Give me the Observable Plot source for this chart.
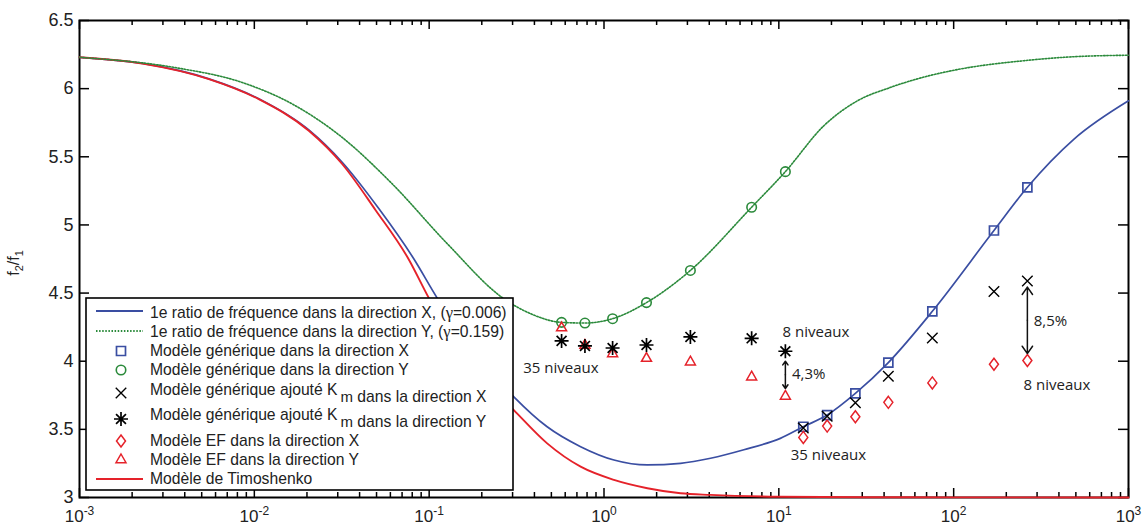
<!DOCTYPE html>
<html><head><meta charset="utf-8">
<script src="https://cdn.jsdelivr.net/npm/d3@7"></script>
<script src="https://cdn.jsdelivr.net/npm/@observablehq/plot@0.6"></script>
<style>body{margin:0;background:#fff;} #chart{width:1142px;height:525px;}</style>
</head><body><div id="chart"></div>
<script>
// ---------- data ----------
const xMajor = [0.001, 0.01, 0.1, 1, 10, 100, 1000];
const xExp = ["-3", "-2", "-1", "0", "1", "2", "3"];
const yTicks = [3, 3.5, 4, 4.5, 5, 5.5, 6, 6.5];

// Blue: 1e ratio, direction X (gamma=0.006)
const blueX = [0.001, 0.00229, 0.0055, 0.0106, 0.0205, 0.0318, 0.0515, 0.0818, 0.111, 0.178, 0.305, 0.473, 0.735, 1.14, 1.77, 2.74, 4.07, 6.31, 10.2, 13.8, 18.9, 27.4, 42.3, 75.5, 170, 264, 488, 1000];
const blueY = [6.23, 6.185, 6.072, 5.926, 5.697, 5.46, 5.12, 4.75, 4.465, 4.08, 3.739, 3.519, 3.373, 3.275, 3.239, 3.251, 3.288, 3.35, 3.434, 3.519, 3.605, 3.764, 3.99, 4.366, 4.959, 5.276, 5.63, 5.911];

// Green dotted: 1e ratio, direction Y (gamma=0.159)
const greenX = [0.001, 0.00354, 0.00853, 0.0165, 0.0318, 0.0615, 0.127, 0.267, 0.38, 0.572, 0.778, 1.12, 1.75, 3.12, 6.99, 10.9, 18.1, 28.1, 43.7, 67.6, 105, 252, 500, 1000];
const greenY = [6.23, 6.154, 6.045, 5.887, 5.642, 5.301, 4.862, 4.459, 4.349, 4.285, 4.28, 4.312, 4.43, 4.666, 5.13, 5.391, 5.728, 5.91, 6.01, 6.085, 6.14, 6.205, 6.235, 6.245];

// Red: Timoshenko
const redX = [0.001, 0.00229, 0.0055, 0.0106, 0.0205, 0.0318, 0.0493, 0.0766, 0.0995, 0.178, 0.305, 0.473, 0.735, 1.14, 1.77, 2.74, 4.07, 10, 31.6, 100, 1000];
const redY = [6.23, 6.184, 6.07, 5.923, 5.691, 5.447, 5.11, 4.745, 4.465, 3.95, 3.641, 3.397, 3.226, 3.129, 3.068, 3.031, 3.019, 3.006, 3.002, 3.001, 3.0];

// Markers, Y-direction models (35 -> 8 niveaux)
const ptsYX = [0.572, 0.778, 1.12, 1.75, 3.12, 6.99, 10.9];
const circleY = [4.285, 4.28, 4.312, 4.43, 4.666, 5.13, 5.391];
const asteriskY = [4.149, 4.112, 4.097, 4.119, 4.178, 4.168, 4.073];
const triangleY = [4.251, 4.122, 4.061, 4.027, 4.0, 3.89, 3.749];

// Markers, X-direction models
const ptsXX = [13.8, 18.9, 27.4, 42.3, 75.5, 170, 264];
const squareY = [3.519, 3.605, 3.764, 3.99, 4.366, 4.959, 5.276];
const timesY = [3.51, 3.597, 3.695, 3.89, 4.171, 4.512, 4.588];
const diamondY = [3.441, 3.524, 3.592, 3.698, 3.841, 3.978, 4.005];

// Annotations
const annoText = ["35 niveaux", "8 niveaux", "4,3%", "8,5%", "8 niveaux", "35 niveaux"];
const annoX = [0.345, 10.5, 11.9, 287, 251, 11.7];
const annoY = [3.951, 4.214, 3.903, 4.293, 3.824, 3.312];
const arrowX = [10.9, 264];
const arrowY1 = [4.0, 4.544];
const arrowY2 = [3.8, 4.056];

const legendLabels = [
  "1e ratio de fréquence dans la direction X, (γ=0.006)",
  "1e ratio de fréquence dans la direction Y, (γ=0.159)",
  "Modèle générique dans la direction X",
  "Modèle générique dans la direction Y",
  "Modèle générique ajouté K_m dans la direction X",
  "Modèle générique ajouté K_m dans la direction Y",
  "Modèle EF dans la direction X",
  "Modèle EF dans la direction Y",
  "Modèle de Timoshenko"
];

// ---------- styles ----------
const BLUE = "#3a4ea2", GREEN = "#2b8a3b", RED = "#e5222a";

const asterisk8 = {draw(ctx, size) { const r = Math.sqrt(size / Math.PI) * 1.4, d = r * Math.SQRT1_2;
  ctx.moveTo(-r, 0); ctx.lineTo(r, 0); ctx.moveTo(0, -r); ctx.lineTo(0, r);
  ctx.moveTo(-d, -d); ctx.lineTo(d, d); ctx.moveTo(-d, d); ctx.lineTo(d, -d); }};
const tallDiamond = {draw(ctx, size) { const r = Math.sqrt(size / Math.PI), w = r * 0.9, h = r * 1.2;
  ctx.moveTo(0, -h); ctx.lineTo(w, 0); ctx.lineTo(0, h); ctx.lineTo(-w, 0); ctx.closePath(); }};
const triUp = {draw(ctx, size) { const r = Math.sqrt(size / Math.PI);
  ctx.moveTo(0, -r); ctx.lineTo(r, 0.75 * r); ctx.lineTo(-r, 0.75 * r); ctx.closePath(); }};
const squareS = {draw(ctx, size) { const h = Math.sqrt(size / Math.PI) * 0.9;
  ctx.moveTo(-h, -h); ctx.lineTo(h, -h); ctx.lineTo(h, h); ctx.lineTo(-h, h); ctx.closePath(); }};
const timesS = {draw(ctx, size) { const h = Math.sqrt(size / Math.PI) * 1.05;
  ctx.moveTo(-h, -h); ctx.lineTo(h, h); ctx.moveTo(-h, h); ctx.lineTo(h, -h); }};
const circleS = {draw(ctx, size) { const r = Math.sqrt(size / Math.PI) * 0.95;
  ctx.moveTo(r, 0); ctx.arc(0, 0, r, 0, 2 * Math.PI); }};

// ---------- build tables ----------
const zip = (xs, ys) => xs.map((x, i) => ({x, y: ys[i]}));
const xMinor = xMajor.slice(0, -1).flatMap(p => [2,3,4,5,6,7,8,9].map(k => +(k * p).toPrecision(3)));
const W = 1142, H = 525, ML = 79, MR = 14, MT = 20, MB = 28;
const innerH = H - MT - MB, innerW = W - ML - MR;
const annos = annoText.map((t, i) => ({t, x: annoX[i], y: annoY[i]}));
const arrows = arrowX.map((x, i) => ({x, y1: arrowY1[i], y2: arrowY2[i], ym: (arrowY1[i] + arrowY2[i]) / 2}));

const chart = Plot.plot({
  width: W, height: H,
  marginLeft: ML, marginRight: MR, marginTop: MT, marginBottom: MB,
  style: {background: "white", fontFamily: "'Liberation Sans', Arial, sans-serif", overflow: "visible"},
  x: {type: "log", domain: [1e-3, 1e3]},
  y: {domain: [3, 6.5]},
  marks: [
    Plot.axisY({ticks: yTicks, tickSize: 0, tickPadding: 6, fontSize: 18, label: null, color: "#222", tickFormat: d => String(d)}),
    Plot.axisX({ticks: xMajor, tickSize: 0, tickPadding: 12, fontSize: 17, label: null, color: "#222",
      tickFormat: d => "10|" + xExp[xMajor.indexOf(d)]}),
    Plot.frame({stroke: "black", strokeWidth: 2}),
    Plot.tickX(xMajor, {x: d => d, insetTop: innerH - 9, stroke: "black", strokeWidth: 1.5}),
    Plot.tickX(xMajor, {x: d => d, insetBottom: innerH - 9, stroke: "black", strokeWidth: 1.5}),
    Plot.tickX(xMinor, {x: d => d, insetTop: innerH - 5, stroke: "black", strokeWidth: 1.5}),
    Plot.tickX(xMinor, {x: d => d, insetBottom: innerH - 5, stroke: "black", strokeWidth: 1.5}),
    Plot.tickY(yTicks, {y: d => d, insetRight: innerW - 10, stroke: "black", strokeWidth: 1.5}),
    Plot.tickY(yTicks, {y: d => d, insetLeft: innerW - 10, stroke: "black", strokeWidth: 1.5}),
    Plot.line(zip(blueX, blueY), {x: "x", y: "y", stroke: BLUE, strokeWidth: 1.7, curve: "monotone-x"}),
    Plot.line(zip(redX, redY), {x: "x", y: "y", stroke: RED, strokeWidth: 1.9, curve: "monotone-x"}),
    Plot.line(zip(greenX, greenY), {x: "x", y: "y", stroke: GREEN, strokeWidth: 1.6, strokeDasharray: "1.5,1.6", curve: "monotone-x"}),
    Plot.dot(zip(ptsXX, squareY), {x: "x", y: "y", r: 5, symbol: squareS, stroke: BLUE, strokeWidth: 1.7, fill: "none"}),
    Plot.dot(zip(ptsXX, timesY), {x: "x", y: "y", r: 5, symbol: timesS, stroke: "black", strokeWidth: 1.4, fill: "none"}),
    Plot.dot(zip(ptsXX, diamondY), {x: "x", y: "y", r: 5, symbol: tallDiamond, stroke: RED, strokeWidth: 1.5, fill: "none"}),
    Plot.dot(zip(ptsYX, circleY), {x: "x", y: "y", r: 5, symbol: circleS, stroke: GREEN, strokeWidth: 1.6, fill: "none"}),
    Plot.dot(zip(ptsYX, triangleY), {x: "x", y: "y", r: 5, symbol: triUp, stroke: RED, strokeWidth: 1.5, fill: "none"}),
    Plot.dot(zip(ptsYX, asteriskY), {x: "x", y: "y", r: 5, symbol: asterisk8, stroke: "black", strokeWidth: 1.7, fill: "none"}),
    Plot.arrow(arrows, {x1: "x", x2: "x", y1: "ym", y2: "y1", stroke: "#111", strokeWidth: 1.5, headLength: 9, headAngle: 70}),
    Plot.arrow(arrows, {x1: "x", x2: "x", y1: "ym", y2: "y2", stroke: "#111", strokeWidth: 1.5, headLength: 9, headAngle: 70}),
    Plot.text(annos, {x: "x", y: "y", text: "t", textAnchor: "start", fontSize: 15, fill: "#222", fontFamily: "'Open Sans', 'Noto Sans', sans-serif"})
  ]
});
document.getElementById("chart").appendChild(chart);

// ---------- x tick labels with superscripts ----------
const svg = d3.select(chart);
svg.selectAll('g[aria-label="x-axis tick label"] text').each(function() {
  const parts = this.textContent.split("|");
  const t = d3.select(this);
  t.text(null);
  t.append("tspan").text(parts[0]);
  t.append("tspan").attr("dy", "-0.55em").attr("font-size", 12).text(parts[1]);
});

// ---------- y label ----------
const yl = svg.append("text").attr("transform", "translate(19,263) rotate(-90)")
  .attr("text-anchor", "middle").attr("font-size", 16).attr("fill", "#222")
  .attr("font-family", "'Liberation Sans', Arial, sans-serif");
yl.append("tspan").text("f");
yl.append("tspan").attr("dy", 4).attr("font-size", 11).text("2");
yl.append("tspan").attr("dy", -4).text("/f");
yl.append("tspan").attr("dy", 4).attr("font-size", 11).text("1");

// ---------- legend ----------
const lg = svg.append("g").attr("font-family", "'Liberation Sans', Arial, sans-serif").attr("font-size", 15.7)
  .attr("fill", "#222").attr("text-anchor", "start");
lg.append("rect").attr("x", 86).attr("y", 298).attr("width", 427).attr("height", 192)
  .attr("fill", "white").attr("stroke", "black").attr("stroke-width", 1.6);
const symY = [311, 331, 351, 370, 393, 419, 441, 459, 479];
const txtY = [318, 337, 356, 375, 395, 420, 446, 465, 484];
const kinds = [
  {line: BLUE}, {line: GREEN, dash: "1.5,1.6"},
  {sym: squareS, c: BLUE, w: 1.7}, {sym: circleS, c: GREEN, w: 1.6},
  {sym: timesS, c: "black", w: 1.4}, {sym: asterisk8, c: "black", w: 1.7},
  {sym: tallDiamond, c: RED, w: 1.5}, {sym: triUp, c: RED, w: 1.5}, {line: RED}
];
kinds.forEach((k, i) => {
  if (k.line) {
    lg.append("line").attr("x1", 96).attr("x2", 143).attr("y1", symY[i]).attr("y2", symY[i])
      .attr("stroke", k.line).attr("stroke-width", 1.8).attr("stroke-dasharray", k.dash || null);
  } else {
    lg.append("path").attr("transform", `translate(121,${symY[i]})`)
      .attr("d", d3.symbol().type(k.sym).size(Math.PI * 25)())
      .attr("fill", "none").attr("stroke", k.c).attr("stroke-width", k.w);
  }
  const t = lg.append("text").attr("x", 150).attr("y", txtY[i]).attr("text-anchor", "start");
  legendLabels[i].split(/(γ|_m)/).forEach(seg => {
    if (seg === "γ") t.append("tspan").attr("font-family", "'Liberation Serif', serif").attr("font-size", 16.5).text("γ");
    else if (seg === "_m") { t.append("tspan").attr("dy", 7).attr("dx", 3).attr("font-size", 15).text("m"); t.append("tspan").attr("dy", -7).text(""); }
    else if (seg) t.append("tspan").text(seg);
  });
});
</script>
</body></html>
